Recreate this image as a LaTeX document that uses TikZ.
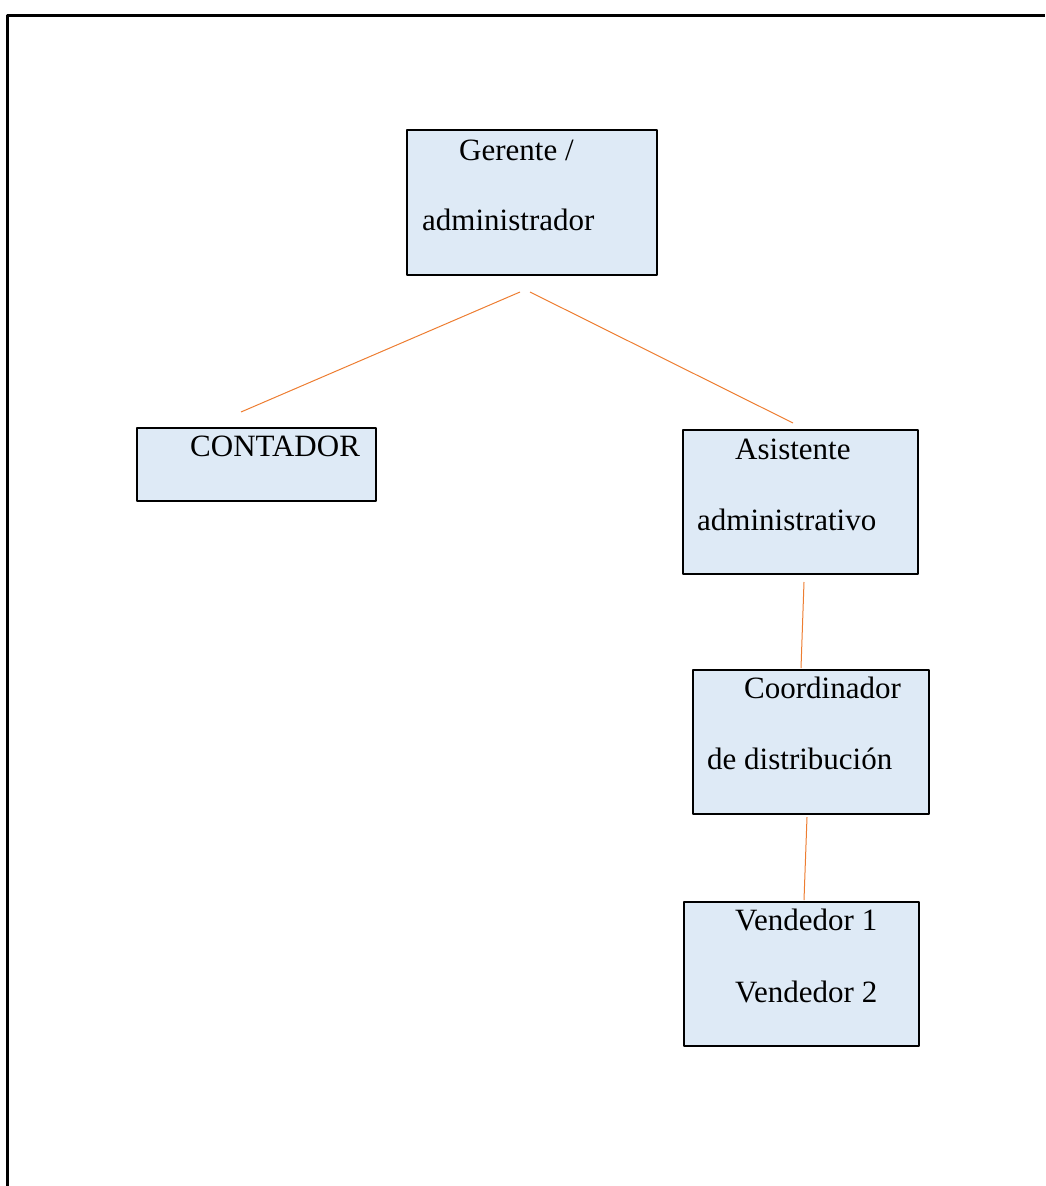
\documentclass[tikz,border=0pt]{standalone}
\usepackage{fontspec}
\setmainfont{Liberation Serif}
\definecolor{cajaazul}{HTML}{DEEAF6}
\definecolor{naranja}{HTML}{ED7D31}
\begin{document}
\begin{tikzpicture}[x=1pt, y=-1pt, font=\fontsize{31}{37}\selectfont, line join=round,
	caja/.style={draw=black, line width=1.6pt, fill=cajaazul, inner sep=0pt},
	enlace/.style={draw=naranja, line width=1pt},
	texto/.style={anchor=base west, inner sep=0pt}]
			\useasboundingbox (0,0) rectangle (1045,1186);
			% Marco
			\draw[line width=2.2pt] (7.5,1186)--(7.5,15.5)--(1045,15.5);
			% Cajas
			\node (gerente) at (532,202.5) [caja, minimum width=250, minimum height=145]{};
			\node (contador) at (256.5,464.5) [caja, minimum width=239, minimum height=73]{};
			\node (asistente) at (800.5,502) [caja, minimum width=235, minimum height=144]{};
			\node (coordinador) at (811,742) [caja, minimum width=236, minimum height=144]{};
			\node (vendedor) at (801.5,974) [caja, minimum width=235, minimum height=144]{};
			% Textos
			\node (tGer1) at (459,160) [texto]{Gerente /};
			\node (tGer2) at (422,230) [texto]{administrador};
			\node (tCont) at (190,456) [texto]{CONTADOR};
			\node (tAsis1) at (735,459) [texto]{Asistente};
			\node (tAsis2) at (697,530) [texto]{administrativo};
			\node (tCoor1) at (744,698) [texto]{Coordinador};
			\node (tCoor2) at (707,769) [texto]{de distribución};
			\node (tVend1) at (735,930) [texto]{Vendedor 1};
			\node (tVend2) at (735,1002) [texto]{Vendedor 2};
			% Enlaces
			\coordinate (g1) at (520,292); \coordinate (c1) at (241,412);
			\coordinate (g2) at (530,292); \coordinate (a1) at (793,423);
			\coordinate (a2) at (804,582); \coordinate (k1) at (801,668);
			\coordinate (k2) at (807,817); \coordinate (v1) at (804,900);
			\draw[enlace] (g1)--(c1);
			\draw[enlace] (g2)--(a1);
			\draw[enlace] (a2)--(k1);
			\draw[enlace] (k2)--(v1);
\end{tikzpicture}
\end{document}
